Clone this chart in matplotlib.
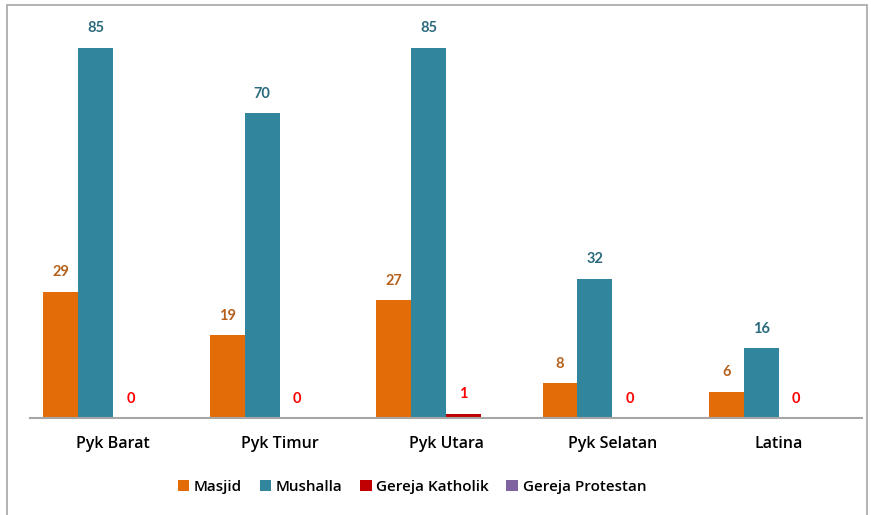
import numpy as np
import matplotlib.pyplot as plt
from matplotlib.patches import Rectangle

# Data
kecamatan = ["Pyk Barat", "Pyk Timur", "Pyk Utara", "Pyk Selatan", "Latina"]
masjid = [29, 19, 27, 8, 6]
mushalla = [85, 70, 85, 32, 16]
gereja_katholik = [0, 0, 1, 0, 0]
gereja_protestan = [np.nan, np.nan, np.nan, np.nan, np.nan]  # tidak ada data

series = [
    ("Masjid", masjid, "#E36C09", "#B5611C"),
    ("Mushalla", mushalla, "#31859C", "#2B6A7D"),
    ("Gereja Katholik", gereja_katholik, "#C00000", "#FF0000"),
    ("Gereja Protestan", gereja_protestan, "#8064A2", "#8064A2"),
]

plt.rcParams['font.family'] = ['Lato', 'DejaVu Sans']

fig = plt.figure(figsize=(8.71, 5.15), dpi=100)
ax = fig.add_axes([30 / 871, 97 / 515, 832 / 871, 392 / 515])

x = np.arange(len(kecamatan))
w = 0.21
for i, (nama, vals, warna, warna_label) in enumerate(series):
    pos = x + (i - 1.5) * w
    bars = ax.bar(pos, vals, width=w, color=warna, label=nama)
    for p, v in zip(pos, vals):
        if np.isnan(v):
            continue
        ax.annotate(str(int(v)), (p, v), xytext=(0, 14), textcoords="offset points",
                    ha="center", va="center", fontsize=10.5, fontweight="bold",
                    color=warna_label)

ax.set_xlim(-0.5, len(kecamatan) - 0.5)
ax.set_ylim(0, 90)
ax.set_yticks([])
ax.set_xticks(x)
ax.set_xticklabels(kecamatan, fontsize=11.5, color="black", fontweight="semibold",
                   family=["Open Sans", "DejaVu Sans"])
ax.tick_params(axis="x", length=0, pad=13)
for s in ["top", "right", "left"]:
    ax.spines[s].set_visible(False)
ax.spines["bottom"].set_color("#A6A6A6")
ax.spines["bottom"].set_linewidth(1.5)

fig.legend(loc="center", bbox_to_anchor=(412 / 871, 1 - 487 / 515), ncol=4,
           frameon=False,
           prop={"family": ["Open Sans", "DejaVu Sans"], "size": 11, "weight": "semibold"},
           handlelength=0.75, handleheight=0.75,
           handletextpad=0.3, columnspacing=1.15)

# bingkai luar
fig.patches.append(Rectangle((7 / 871, -0.05), 860 / 871, 1.05 - 5 / 515,
                             transform=fig.transFigure, fill=False,
                             edgecolor="#A6A6A6", linewidth=1.2))

fig.savefig("out.png", dpi=100)
